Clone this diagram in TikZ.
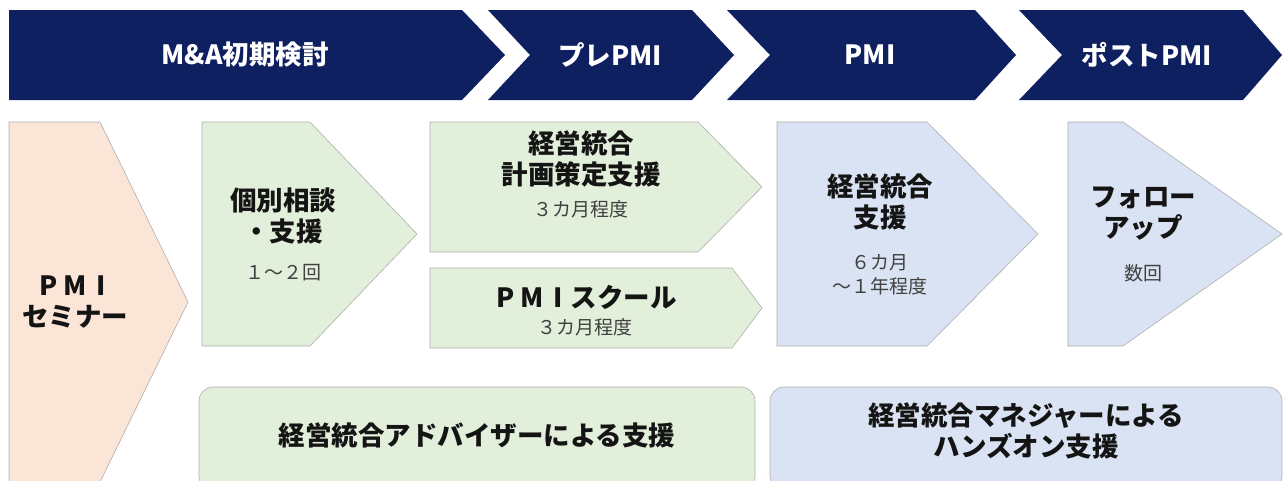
\documentclass[tikz,border=0pt]{standalone}
\usepackage{fontspec}
\setmainfont{Noto Sans CJK JP}
\definecolor{navy}{RGB}{14,32,96}
\definecolor{pinkf}{RGB}{251,229,214}
\definecolor{greenf}{RGB}{226,239,218}
\definecolor{bluef}{RGB}{218,227,243}
\definecolor{edge}{RGB}{175,175,175}
\definecolor{subtxt}{RGB}{64,64,64}
\definecolor{maintxt}{RGB}{20,20,20}
\newcommand{\fw}[1]{\makebox[26pt]{#1}}
\tikzset{
  chev/.style={fill=navy,draw=none},
  pinkbox/.style={fill=pinkf,draw=edge,line width=0.6pt},
  greenbox/.style={fill=greenf,draw=edge,line width=0.6pt},
  bluebox/.style={fill=bluef,draw=edge,line width=0.6pt},
  headtxt/.style={text=white,font=\fontsize{26.5}{30}\selectfont\bfseries,inner sep=0pt},
  maintext/.style={text=maintxt,font=\fontsize{26.5}{31}\selectfont\bfseries,align=center,inner sep=0pt},
  subtext/.style={text=subtxt,font=\fontsize{19}{24}\selectfont,align=center,inner sep=0pt}
}
\begin{document}
\begin{tikzpicture}[x=1pt,y=-1pt]
\useasboundingbox (0,0) rectangle (1284,480);
\fill[white] (0,0) rectangle (1284,480);
% header chevrons
\path[chev] (9,10) -- (462,10) -- (505,55) -- (462,100) -- (9,100) -- cycle;
\path[chev] (488,10) -- (692,10) -- (734,55) -- (692,100) -- (488,100) -- (530,55) -- cycle;
\path[chev] (727,10) -- (975,10) -- (1016,55) -- (975,100) -- (727,100) -- (770,55) -- cycle;
\path[chev] (1019,10) -- (1243,10) -- (1282,55) -- (1243,100) -- (1019,100) -- (1062,55) -- cycle;
\node[headtxt] (h1) at (245,55) {M\&A初期検討};
\node[headtxt] (h2) at (610,55) {プレPMI};
\node[headtxt] (h3) at (870,55) {PMI};
\node[headtxt] (h4) at (1147,55) {ポストPMI};
% body shapes
\path[pinkbox] (9,122) -- (100,122) -- (188,302) -- (100,482) -- (9,482) -- cycle;
\path[greenbox] (202,122) -- (310,122) -- (417,234) -- (310,346) -- (202,346) -- cycle;
\path[greenbox] (430,122) -- (698,122) -- (762,187) -- (698,252) -- (430,252) -- cycle;
\path[greenbox] (430,268) -- (732,268) -- (762,308) -- (732,348) -- (430,348) -- cycle;
\path[bluebox] (777,122) -- (927,122) -- (1038,234) -- (927,346) -- (777,346) -- cycle;
\path[bluebox] (1068,122) -- (1123,122) -- (1282,234) -- (1123,346) -- (1068,346) -- cycle;
\path[greenbox,rounded corners=14pt] (199,387) rectangle (755,490);
\path[bluebox,rounded corners=14pt] (770,387) rectangle (1282,490);
% texts
\node[maintext] (sem) at (75,302) {\fw{P}\fw{M}\fw{I}\\セミナー};
\node[maintext] (kobetsu) at (283,216) {個別相談\\・支援};
\node[subtext] (kobetsuS) at (283,273) {１～２回};
\node[maintext] (keikaku) at (581,159) {経営統合\\計画策定支援};
\node[subtext] (keikakuS) at (581,209) {３カ月程度};
\node[maintext] (school) at (585,297) {\fw{P}\fw{M}\fw{I}スクール};
\node[subtext] (schoolS) at (585,327) {３カ月程度};
\node[maintext] (togo) at (880,202) {経営統合\\支援};
\node[subtext] (togoS) at (880,275) {６カ月\\～１年程度};
\node[maintext] (follow) at (1143,214) {フォロー\\アップ};
\node[subtext] (followS) at (1143,273) {数回};
\node[maintext] (adv) at (477,435) {経営統合アドバイザーによる支援};
\node[maintext] (mgr) at (1026,431) {経営統合マネジャーによる\\ハンズオン支援};
\end{tikzpicture}
\end{document}
